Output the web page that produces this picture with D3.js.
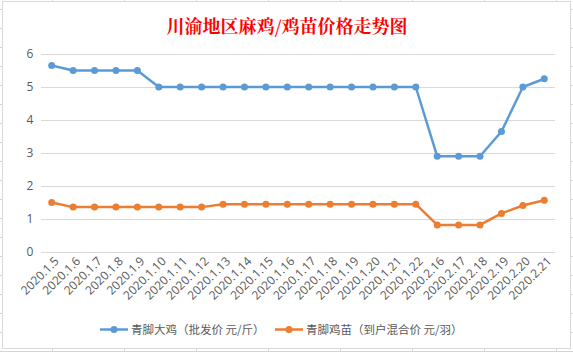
<!DOCTYPE html>
<html>
<head>
<meta charset="utf-8">
<script src="https://cdn.jsdelivr.net/npm/d3@7"></script>
<style>
  html, body { margin: 0; padding: 0; background: #fff; }
  svg { display: block; font-family: "Noto Sans CJK SC", "Noto Sans", sans-serif; }
</style>
</head>
<body>
<svg id="chart" width="573" height="352"></svg>
<script>
// ── Data ──────────────────────────────────────────────
const dates = [
  '2020.1.5', '2020.1.6', '2020.1.7', '2020.1.8', '2020.1.9', '2020.1.10',
  '2020.1.11', '2020.1.12', '2020.1.13', '2020.1.14', '2020.1.15', '2020.1.16',
  '2020.1.17', '2020.1.18', '2020.1.19', '2020.1.20', '2020.1.21', '2020.1.22',
  '2020.2.16', '2020.2.17', '2020.2.18', '2020.2.19', '2020.2.20', '2020.2.21'
];
const adultPrice = [
  5.65, 5.5, 5.5, 5.5, 5.5, 5.0, 5.0, 5.0, 5.0, 5.0, 5.0, 5.0,
  5.0, 5.0, 5.0, 5.0, 5.0, 5.0, 2.9, 2.9, 2.9, 3.65, 5.0, 5.25
];
const chickPrice = [
  1.5, 1.36, 1.36, 1.36, 1.36, 1.36, 1.36, 1.36, 1.45, 1.45, 1.45, 1.45,
  1.45, 1.45, 1.45, 1.45, 1.45, 1.45, 0.82, 0.82, 0.82, 1.17, 1.41, 1.57
];
const yTicks = [0, 1, 2, 3, 4, 5, 6];
const seriesNames = ['青脚大鸡（批发价 元/斤）', '青脚鸡苗（到户混合价 元/羽）'];
const title = '川渝地区麻鸡/鸡苗价格走势图';

const BLUE = '#5b9bd5', ORANGE = '#ed7d31';
const GRID = '#d9d9d9', TEXT = '#595959';

const svg = d3.select('#chart');

// Spreadsheet cells behind the chart
const sheet = svg.append('g').attr('stroke', '#d4d4d4').attr('stroke-width', 1);
for (let y = 9.5; y < 352; y += 19) {
  sheet.append('line').attr('x1', 0).attr('x2', 573).attr('y1', y).attr('y2', y);
}
for (let x = 52.5; x < 573; x += 72) {
  sheet.append('line').attr('x1', x).attr('x2', x).attr('y1', 0).attr('y2', 352);
}

// Chart area
svg.append('rect')
  .attr('x', 2.5).attr('y', 1.5).attr('width', 568).attr('height', 347)
  .attr('fill', '#fff').attr('stroke', GRID);

svg.append('text')
  .attr('x', 287).attr('y', 33)
  .attr('text-anchor', 'middle')
  .attr('fill', '#ff0000')
  .attr('font-size', 18).attr('font-weight', 'bold')
  .attr('font-family', '"Noto Serif CJK SC", "Noto Sans CJK SC", serif')
  .text(title);

// Scales
const x = d3.scaleBand().domain(dates).range([41, 555]);
const y = d3.scaleLinear().domain([0, 6]).range([252, 54]);
const cx = d => x(d) + x.bandwidth() / 2;

// Gridlines
svg.append('g')
  .selectAll('line').data(yTicks).join('line')
  .attr('x1', 41).attr('x2', 555)
  .attr('y1', d => Math.round(y(d)) + 0.5).attr('y2', d => Math.round(y(d)) + 0.5)
  .attr('stroke', GRID);

// Y labels
svg.append('g')
  .selectAll('text').data(yTicks).join('text')
  .attr('x', 30).attr('y', d => y(d))
  .attr('dy', '0.35em')
  .attr('text-anchor', 'middle')
  .attr('fill', TEXT).attr('font-size', 12)
  .attr('font-family', '"Open Sans", "Noto Sans", sans-serif')
  .text(d => d);

// X labels, rotated
svg.append('g')
  .selectAll('text').data(dates).join('text')
  .attr('transform', d => `translate(${cx(d) + 5},${259}) rotate(-45)`)
  .attr('text-anchor', 'end')
  .attr('dy', '0.35em')
  .attr('fill', TEXT).attr('font-size', 12)
  .attr('font-family', '"Open Sans", "Noto Sans", sans-serif')
  .text(d => d);

// Series
const line = d3.line().x((d, i) => cx(dates[i])).y(d => y(d));
[[adultPrice, BLUE], [chickPrice, ORANGE]].forEach(([vals, col]) => {
  svg.append('path').datum(vals)
    .attr('d', line)
    .attr('fill', 'none').attr('stroke', col)
    .attr('stroke-width', 2.5).attr('stroke-linejoin', 'round');
  svg.append('g')
    .selectAll('circle').data(vals).join('circle')
    .attr('cx', (d, i) => cx(dates[i])).attr('cy', d => y(d))
    .attr('r', 3.5).attr('fill', col);
});

// Legend
const legend = [
  { name: seriesNames[0], color: BLUE, x: 100 },
  { name: seriesNames[1], color: ORANGE, x: 275 }
];
const lg = svg.append('g').selectAll('g').data(legend).join('g')
  .attr('transform', d => `translate(${d.x},329.5)`);
lg.append('line').attr('x1', 0).attr('x2', 28)
  .attr('stroke', d => d.color).attr('stroke-width', 2.5);
lg.append('circle').attr('cx', 14).attr('r', 3.5).attr('fill', d => d.color);
lg.append('text').attr('x', 31).attr('dy', '0.35em')
  .attr('fill', TEXT).attr('font-size', 11.5)
  .text(d => d.name);
</script>
</body>
</html>
